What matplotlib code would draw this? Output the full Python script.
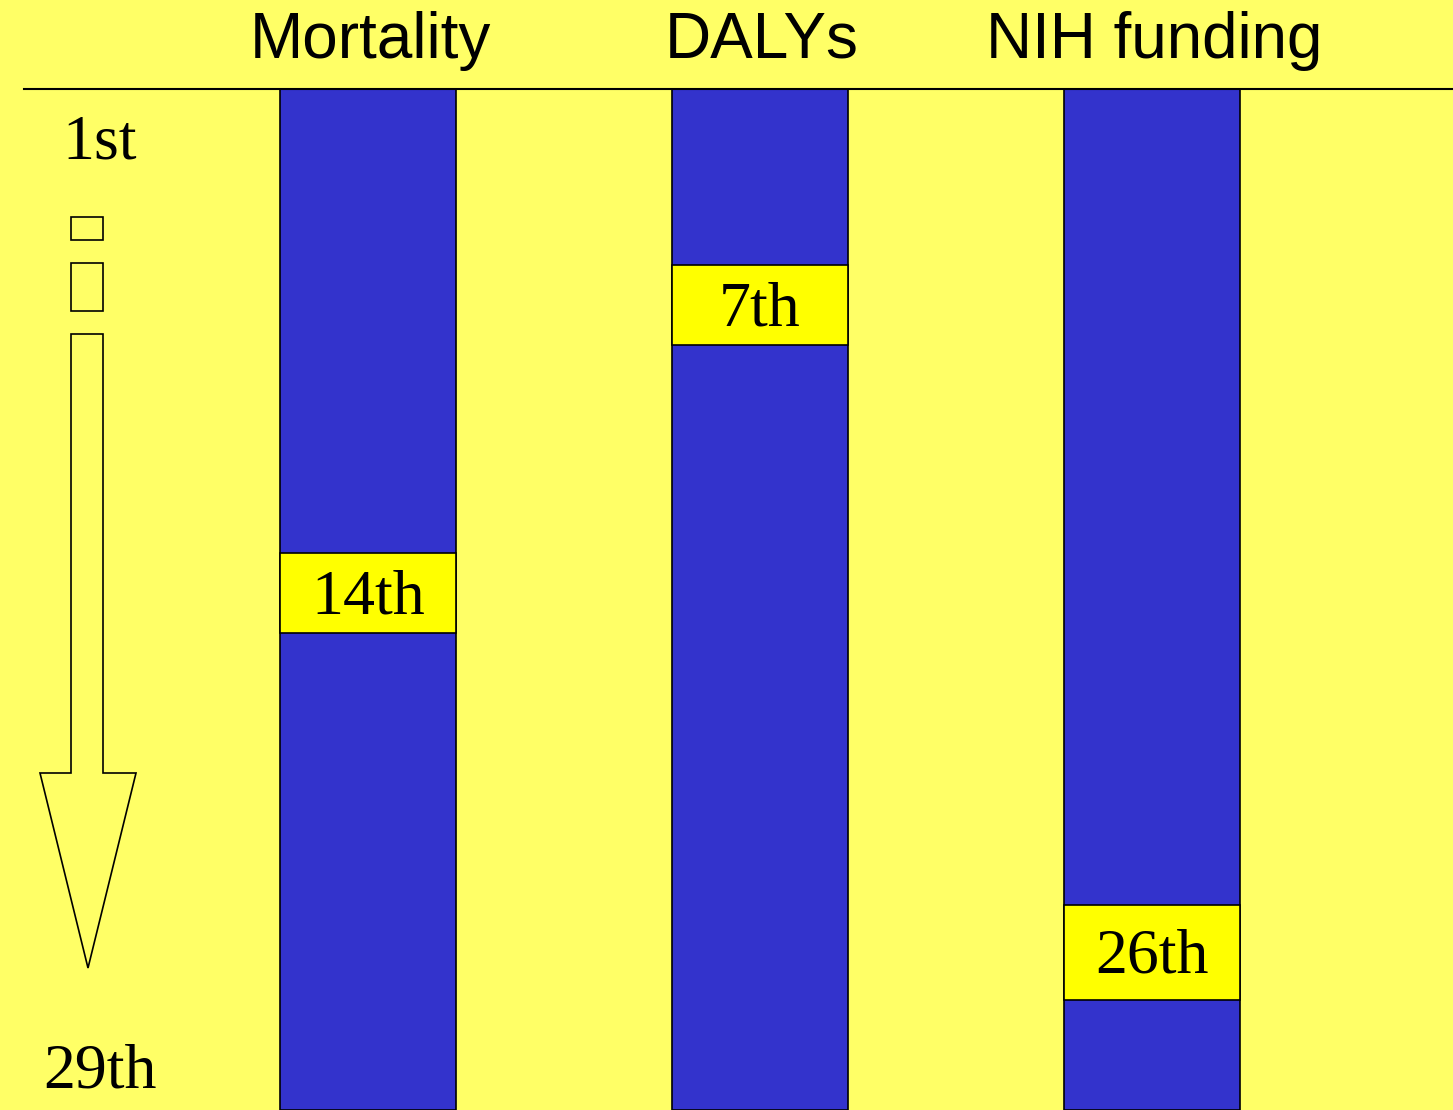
import numpy as np
import matplotlib.pyplot as plt
import matplotlib.transforms as mtransforms
from matplotlib.patches import Rectangle, Polygon

# data
measures = ["Mortality", "DALYs", "NIH funding"]
ranks = [14, 7, 26]
rank_labels = ["14th", "7th", "26th"]
n_ranks = 29
scale_labels = ["1st", "29th"]

BG = "#FFFF66"
BAR = "#3333CC"
BOX = "#FFFF00"

# the slide's rank scale is schematic, not linear: rank -> height from top (px)
scale_rank = [-2.7, 0, 6, 8, 13, 15, 25, 27, 29, 30.5]
scale_px = [0, 89, 265, 345, 553, 633, 905, 1000, 1067, 1110]


def fwd(r):
    return np.interp(r, scale_rank, scale_px)


def inv(p):
    return np.interp(p, scale_px, scale_rank)


fig = plt.figure(figsize=(14.53, 11.10), dpi=100, facecolor=BG)
ax = fig.add_axes([0, 0, 1, 1])
ax.set_facecolor(BG)
ax.set_yscale("function", functions=(fwd, inv))
ax.set_xlim(-0.939, 2.768)
ax.set_ylim(30.5, -2.7)  # 1st at top
ax.axis("off")

xs = list(range(len(measures)))
bar_w = 0.449
# nudge text so the digits, not the whole text box, sit on the point
txt = mtransforms.offset_copy(ax.transData, fig=fig, y=-5, units="dots")

# full-height columns, one per measure
ax.bar(xs, n_ranks + 1.5, bottom=0, width=bar_w, color=BAR,
       edgecolor="black", linewidth=1.2, zorder=2)

# highlighted rank of each measure
for x, r, lab in zip(xs, ranks, rank_labels):
    ax.add_patch(Rectangle((x - bar_w / 2, r - 1), bar_w, 2,
                           facecolor=BOX, edgecolor="black", linewidth=1.2, zorder=3))
    ax.text(x, r, lab, ha="center", va="center", fontsize=46,
            family="Liberation Serif", zorder=4, transform=txt)

# column headers
head = mtransforms.blended_transform_factory(ax.transData, ax.transAxes)
for x, name in zip(xs, measures):
    ax.text(x + 0.005, 1 - 58 / 1110, name, ha="center", va="baseline",
            fontsize=46, family="Liberation Sans", transform=head)

# header rule
ax.axhline(0, xmin=24 / 1453, xmax=1, color="black", linewidth=1.5, zorder=5)

# rank scale on the left
ax.text(-0.686, 1.7, scale_labels[0], ha="center", va="center", fontsize=46,
        family="Liberation Serif", transform=txt)
ax.text(-0.683, n_ranks, scale_labels[1], ha="center", va="center", fontsize=46,
        family="Liberation Serif", transform=txt)

# overlay in pixel units for the hollow arrow and the glyph boxes
ov = fig.add_axes([0, 0, 1, 1])
ov.patch.set_alpha(0)
ov.set_xlim(0, 1453)
ov.set_ylim(1110, 0)
ov.axis("off")

arrow = [(71, 334), (103, 334), (103, 773), (136, 773), (88, 968),
         (40, 773), (71, 773)]
ov.add_patch(Polygon(arrow, closed=True, facecolor=BG, edgecolor="black", linewidth=1.2))
ov.add_patch(Rectangle((71, 217), 32, 23, facecolor="none", edgecolor="black", linewidth=1.2))
ov.add_patch(Rectangle((71, 263), 32, 48, facecolor="none", edgecolor="black", linewidth=1.2))

fig.savefig("out.png", dpi=100, facecolor=BG)
